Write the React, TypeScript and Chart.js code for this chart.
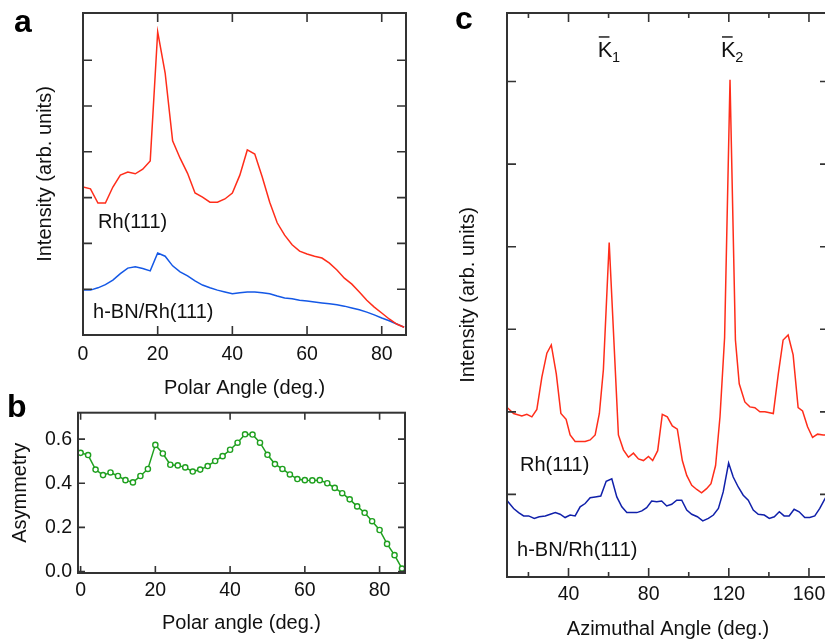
import React, { useEffect, useRef } from "react";
import { Chart, registerables } from "chart.js";
Chart.register(...registerables);

const FONT = '"Liberation Sans", Arial, Helvetica, sans-serif';
const TXT = "#111111";
const FRAME = "#333333";
const RED = "#ff2d1a";
const BLUE_A = "#1458e6";
const BLUE_C = "#1020aa";
const GREEN = "#1fa01f";

// ---------- Panel a: intensity vs polar angle ----------
const polarAngles = [0, 2, 4, 6, 8, 10, 12, 14, 16, 18, 20, 22, 24, 26, 28, 30, 32, 34, 36, 38, 40, 42, 44, 46, 48, 50, 52, 54, 56, 58, 60, 62, 64, 66, 68, 70, 72, 74, 76, 78, 80, 82, 84, 86];
const rhPolar = [3.23, 3.19, 2.88, 2.88, 3.23, 3.49, 3.56, 3.52, 3.62, 3.8, 6.62, 5.72, 4.24, 3.86, 3.53, 3.1, 3.01, 2.9, 2.9, 2.97, 3.1, 3.49, 4.04, 3.95, 3.45, 2.9, 2.45, 2.18, 1.97, 1.83, 1.77, 1.72, 1.68, 1.57, 1.42, 1.24, 1.11, 0.94, 0.76, 0.61, 0.48, 0.35, 0.24, 0.17];
const hbnPolar = [0.98, 0.98, 1.03, 1.1, 1.2, 1.34, 1.46, 1.49, 1.45, 1.4, 1.79, 1.72, 1.51, 1.38, 1.29, 1.18, 1.09, 1.03, 0.98, 0.94, 0.9, 0.92, 0.94, 0.94, 0.92, 0.9, 0.85, 0.81, 0.79, 0.76, 0.74, 0.72, 0.7, 0.68, 0.66, 0.63, 0.59, 0.55, 0.5, 0.44, 0.37, 0.31, 0.24, 0.17];
const polarTicks = [0, 20, 40, 60, 80];
const intensityTicksA = [0, 1, 2, 3, 4, 5, 6];

// ---------- Panel b: asymmetry ----------
const asymmetry = [0.538, 0.528, 0.462, 0.437, 0.449, 0.433, 0.414, 0.404, 0.433, 0.465, 0.574, 0.535, 0.484, 0.481, 0.472, 0.453, 0.462, 0.478, 0.501, 0.523, 0.552, 0.584, 0.622, 0.621, 0.584, 0.529, 0.487, 0.465, 0.44, 0.419, 0.414, 0.413, 0.414, 0.4, 0.379, 0.355, 0.327, 0.295, 0.266, 0.228, 0.188, 0.125, 0.074, 0.013];
const asymTicks = [0, 0.2, 0.4, 0.6];

// ---------- Panel c: intensity vs azimuthal angle ----------
const rhAzAngles = [9.5, 12.6, 16.7, 19.2, 21.7, 24.2, 26.7, 29.2, 31.4, 33.9, 36.2, 38.8, 40.8, 43.3, 48.3, 50.8, 53.3, 55.4, 57.4, 60.3, 64.9, 67.4, 69.9, 72.4, 74.9, 77.4, 79.9, 82.0, 84.5, 86.8, 89.3, 91.8, 94.3, 96.8, 99.0, 101.5, 104.0, 106.4, 108.9, 111.1, 113.4, 115.6, 117.9, 120.6, 123.3, 125.2, 128.0, 130.5, 133.0, 135.5, 138.0, 142.2, 144.7, 147.1, 149.6, 152.1, 154.6, 156.8, 159.3, 161.8, 164.3, 167.1, 169.0];
const rhAzimuth = [2.05, 1.98, 1.95, 1.97, 1.94, 2.03, 2.42, 2.71, 2.81, 2.46, 1.98, 1.91, 1.72, 1.64, 1.64, 1.66, 1.72, 1.98, 2.51, 4.05, 1.72, 1.54, 1.45, 1.5, 1.43, 1.41, 1.46, 1.41, 1.53, 1.97, 1.94, 1.83, 1.79, 1.41, 1.23, 1.11, 1.06, 1.02, 1.07, 1.13, 1.35, 1.94, 2.9, 6.02, 2.87, 2.34, 2.12, 2.06, 2.05, 2.0, 2.0, 1.98, 2.46, 2.87, 2.93, 2.69, 2.05, 2.01, 1.82, 1.69, 1.73, 1.72, 1.72];
const hbnAzAngles = [9.5, 12.6, 15.1, 17.6, 20.1, 22.9, 25.4, 28.4, 30.9, 33.4, 35.8, 38.3, 40.8, 43.3, 45.8, 48.3, 50.8, 53.3, 56.1, 58.8, 61.6, 64.1, 66.6, 69.1, 74.1, 76.6, 79.0, 81.5, 84.0, 86.5, 89.0, 91.5, 94.0, 96.5, 99.0, 101.5, 104.3, 107.0, 109.8, 112.3, 114.8, 117.2, 119.9, 122.2, 124.7, 127.2, 129.7, 132.2, 134.7, 137.7, 140.2, 142.7, 145.2, 147.6, 150.1, 152.6, 155.1, 157.9, 160.4, 162.9, 165.4, 167.6, 169.0];
const hbnAzimuth = [0.92, 0.83, 0.78, 0.74, 0.74, 0.71, 0.73, 0.74, 0.76, 0.78, 0.76, 0.72, 0.75, 0.74, 0.85, 0.89, 0.96, 0.97, 0.98, 1.16, 1.19, 0.97, 0.85, 0.78, 0.78, 0.8, 0.84, 0.92, 0.91, 0.92, 0.86, 0.88, 0.93, 0.93, 0.81, 0.76, 0.73, 0.68, 0.71, 0.75, 0.83, 1.03, 1.38, 1.21, 1.09, 0.99, 0.93, 0.81, 0.76, 0.75, 0.71, 0.73, 0.79, 0.74, 0.74, 0.82, 0.79, 0.72, 0.72, 0.74, 0.83, 0.93, 0.99];
const azTicks = [40, 80, 120, 160];
const azMinorTicks = [20, 60, 100, 140];
const intensityTicksC = [0, 1, 2, 3, 4, 5, 6];

const FS = 19.5;
const FT = 20;

const framePlugin = {
  id: "frame",
  afterDatasetsDraw(chart: any, _args: any, opts: any) {
    const { ctx, chartArea } = chart;
    const { left, right, top, bottom } = chartArea;
    const xs = chart.scales.x;
    const ys = chart.scales.y;
    ctx.save();
    ctx.strokeStyle = FRAME;
    ctx.lineWidth = 2;
    ctx.strokeRect(left, top, right - left, bottom - top);
    ctx.lineWidth = 1.6;
    ctx.beginPath();
    const L = opts.len;
    for (const t of xs.ticks) {
      const p = xs.getPixelForValue(t.value);
      ctx.moveTo(p, bottom);
      ctx.lineTo(p, bottom - L);
      ctx.moveTo(p, top);
      ctx.lineTo(p, top + L);
    }
    for (const t of ys.ticks) {
      const p = ys.getPixelForValue(t.value);
      ctx.moveTo(left, p);
      ctx.lineTo(left + L, p);
      ctx.moveTo(right, p);
      ctx.lineTo(right - L, p);
    }
    if (opts.xMinor) {
      const m = opts.minorLen;
      for (const v of opts.xMinor) {
        const p = xs.getPixelForValue(v);
        ctx.moveTo(p, bottom);
        ctx.lineTo(p, bottom - m);
        ctx.moveTo(p, top);
        ctx.lineTo(p, top + m);
      }
    }
    ctx.stroke();
    ctx.restore();
  },
};

const notesPlugin = {
  id: "notes",
  afterDatasetsDraw(chart: any, _args: any, opts: any) {
    const { ctx } = chart;
    const xs = chart.scales.x;
    const ys = chart.scales.y;
    ctx.save();
    ctx.fillStyle = TXT;
    ctx.textBaseline = "middle";
    ctx.textAlign = "left";
    ctx.font = `${FT}px ${FONT}`;
    for (const it of opts.items || []) {
      ctx.fillText(it.text, xs.getPixelForValue(it.x), ys.getPixelForValue(it.y));
    }
    ctx.textBaseline = "alphabetic";
    for (const k of opts.kbar || []) {
      const x = xs.getPixelForValue(k.x);
      const y = ys.getPixelForValue(k.y);
      ctx.font = `22px ${FONT}`;
      ctx.fillText("K", x, y);
      const w = ctx.measureText("K").width;
      ctx.fillRect(x + 1, y - 20.5, w - 4, 1.4);
      ctx.font = `14.5px ${FONT}`;
      ctx.fillText(k.sub, x + w - 0.5, y + 5);
    }
    ctx.restore();
  },
};

function axis(o: any) {
  return {
    type: "linear",
    min: o.min,
    max: o.max,
    grid: { display: false, drawTicks: false },
    border: { display: false },
    afterBuildTicks: (s: any) => {
      s.ticks = o.ticks.map((v: number) => ({ value: v }));
    },
    afterFit: (s: any) => {
      if (o.width !== undefined) s.width = o.width;
      if (o.height !== undefined) s.height = o.height;
    },
    ticks: {
      display: o.labels,
      padding: o.pad ?? 6,
      color: TXT,
      font: { family: FONT, size: FS },
      maxRotation: 0,
      autoSkip: false,
      callback: (v: number) => (o.fmt ? o.fmt(v) : String(v)),
    },
    title: {
      display: true,
      text: o.title,
      color: TXT,
      font: { family: FONT, size: FT },
      padding: o.titlePad,
    },
  };
}

function lineDs(xs: number[], ys: number[], color: string, extra: any = {}) {
  return {
    data: xs.map((x, i) => ({ x, y: ys[i] })),
    borderColor: color,
    backgroundColor: color,
    borderWidth: 1.5,
    pointRadius: 0,
    tension: 0,
    fill: false,
    ...extra,
  };
}

function baseOptions(padding: any, scales: any, plugins: any) {
  return {
    responsive: false,
    animation: false,
    events: [],
    layout: { padding },
    scales,
    plugins: {
      legend: { display: false },
      tooltip: { enabled: false },
      ...plugins,
    },
  };
}

export default function App() {
  const refA = useRef<HTMLCanvasElement>(null);
  const refB = useRef<HTMLCanvasElement>(null);
  const refC = useRef<HTMLCanvasElement>(null);

  useEffect(() => {
    const charts: Chart[] = [];
    charts.push(
      new Chart(refA.current!, {
        type: "line",
        data: {
          datasets: [
            lineDs(polarAngles, rhPolar, RED),
            lineDs(polarAngles, hbnPolar, BLUE_A),
          ],
        },
        options: baseOptions(
          { top: 13, right: 14, left: 0, bottom: 0 },
          {
            x: axis({ min: 0, max: 86.5, ticks: polarTicks, labels: true, pad: 8, height: 65, title: "Polar Angle (deg.)", titlePad: { top: 0, bottom: 0 } }),
            y: axis({ min: 0, max: 7.03, ticks: intensityTicksA, labels: false, width: 83, title: "Intensity (arb. units)", titlePad: { top: 33, bottom: 0 } }),
          },
          {
            frame: { len: 9 },
            notes: {
              items: [
                { text: "Rh(111)", x: 4.0, y: 2.45 },
                { text: "h-BN/Rh(111)", x: 2.7, y: 0.5 },
              ],
            },
          }
        ),
        plugins: [framePlugin, notesPlugin],
      } as any)
    );
    charts.push(
      new Chart(refB.current!, {
        type: "line",
        data: {
          datasets: [
            lineDs(polarAngles, asymmetry, GREEN, {
              pointRadius: 2.6,
              pointBorderWidth: 1.4,
              pointBackgroundColor: "#ffffff",
              pointBorderColor: GREEN,
              clip: false,
            }),
          ],
        },
        options: baseOptions(
          { top: 12, right: 15, left: 0, bottom: 0 },
          {
            x: axis({ min: -0.7, max: 86.8, ticks: polarTicks, labels: true, pad: 6, height: 68, title: "Polar angle (deg.)", titlePad: { top: 0, bottom: 6 } }),
            y: axis({ min: -0.007, max: 0.72, ticks: asymTicks, labels: true, pad: 6, width: 78, fmt: (v: number) => v.toFixed(1), title: "Asymmetry", titlePad: { top: 8, bottom: 0 } }),
          },
          { frame: { len: 7 } }
        ),
        plugins: [framePlugin],
      } as any)
    );
    charts.push(
      new Chart(refC.current!, {
        type: "line",
        data: {
          datasets: [
            lineDs(rhAzAngles, rhAzimuth, RED),
            lineDs(hbnAzAngles, hbnAzimuth, BLUE_C),
          ],
        },
        options: baseOptions(
          { top: 13, right: 6, left: 0, bottom: 0 },
          {
            x: axis({ min: 9.3, max: 170, ticks: azTicks, labels: true, pad: 6, height: 64, title: "Azimuthal Angle (deg.)", titlePad: { top: 0, bottom: 0 } }),
            y: axis({ min: 0, max: 6.83, ticks: intensityTicksC, labels: false, width: 52, title: "Intensity (arb. units)", titlePad: { top: 1, bottom: 0 } }),
          },
          {
            frame: { len: 9, xMinor: azMinorTicks, minorLen: 5 },
            notes: {
              items: [
                { text: "Rh(111)", x: 15.8, y: 1.35 },
                { text: "h-BN/Rh(111)", x: 14.3, y: 0.32 },
              ],
              kbar: [
                { x: 54.6, y: 6.3, sub: "1" },
                { x: 116.1, y: 6.3, sub: "2" },
              ],
            },
          }
        ),
        plugins: [framePlugin, notesPlugin],
      } as any)
    );
    return () => charts.forEach((c) => c.destroy());
  }, []);

  const letter: React.CSSProperties = {
    position: "absolute",
    fontFamily: FONT,
    fontWeight: "bold",
    fontSize: 32,
    lineHeight: "32px",
    color: "#000",
    margin: 0,
  };

  return (
    <div
      style={{
        position: "absolute",
        left: 0,
        top: 0,
        width: 825,
        height: 641,
        overflow: "hidden",
        background: "#ffffff",
      }}
    >
      <canvas ref={refA} width={420} height={400} style={{ position: "absolute", left: 0, top: 0 }} />
      <canvas ref={refB} width={420} height={246} style={{ position: "absolute", left: 0, top: 395 }} />
      <canvas ref={refC} width={380} height={641} style={{ position: "absolute", left: 455, top: 0 }} />
      <div style={{ ...letter, left: 14, top: 5 }}>a</div>
      <div style={{ ...letter, left: 7, top: 390 }}>b</div>
      <div style={{ ...letter, left: 455, top: 2 }}>c</div>
    </div>
  );
}
